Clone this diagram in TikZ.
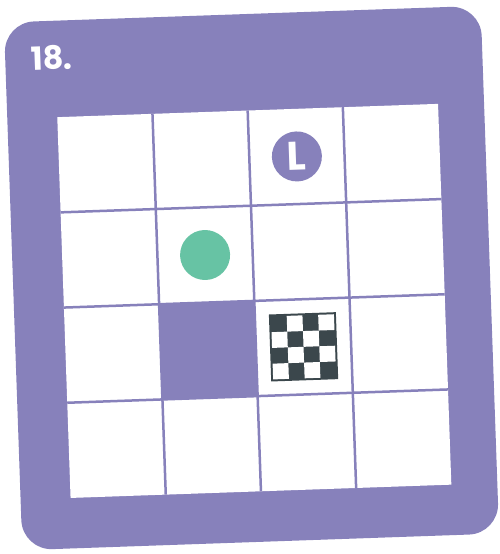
\documentclass[tikz,border=0pt]{standalone}
\usepackage{fontspec}
\newfontfamily\popfont{Poppins}
\definecolor{cardpurple}{HTML}{8781BB}
\definecolor{dotgreen}{HTML}{67C3A4}
\definecolor{flagdark}{HTML}{3B474C}
\tikzset{
  gridline/.style={cardpurple, line width=2.5pt},
  labeltext/.style={text=white, font=\popfont\bfseries\fontsize{32}{32}\selectfont, inner sep=0pt, anchor=center},
  lettertext/.style={text=white, font=\popfont\bfseries\fontsize{40}{40}\selectfont, inner sep=0pt},
}
\begin{document}
\begin{tikzpicture}[x=1pt,y=1pt]
\useasboundingbox (0,0) rectangle (500,554);
\begin{scope}[shift={(251.5,276)}, rotate=2, transform shape]
  % card
  \fill[cardpurple, rounded corners=30pt] (-238.5,-264) rectangle (238.5,264);
  \node[labeltext] (num) at (-192,227) {18.};
  % grid
  \begin{scope}[shift={(-188.5,167.5)}]
    \fill[white] (0,0) rectangle (381,-381);
    \fill[cardpurple] (95.25,-190.5) rectangle (190.5,-285.75);
    \foreach \i in {1,2,3}{
      \draw[gridline] (\i*95.25,0) -- (\i*95.25,-381);
      \draw[gridline] (0,-\i*95.25) -- (381,-\i*95.25);
    }
    % L circle
    \node[circle, fill=cardpurple, minimum size=50pt, inner sep=0pt] (lc) at (238.1,-47.6) {};
    \node[lettertext] (lt) at (lc) {L};
    % green dot
    \node[circle, fill=dotgreen, minimum size=50pt, inner sep=0pt] (gd) at (142.9,-142.9) {};
    % checkered flag
    \begin{scope}[shift={(238.1,-238.1)}]
      \fill[flagdark] (-33.5,-33.5) rectangle (33.5,33.5);
      \foreach \r in {0,1,2,3}{
        \foreach \c in {0,1,2,3}{
          \pgfmathparse{int(mod(\r+\c,2))}
          \ifnum\pgfmathresult=1
            \fill[white] (-31.5+\c*15.75,31.5-\r*15.75) rectangle ++(15.75,-15.75);
          \fi
        }
      }
    \end{scope}
  \end{scope}
\end{scope}
\end{tikzpicture}
\end{document}
